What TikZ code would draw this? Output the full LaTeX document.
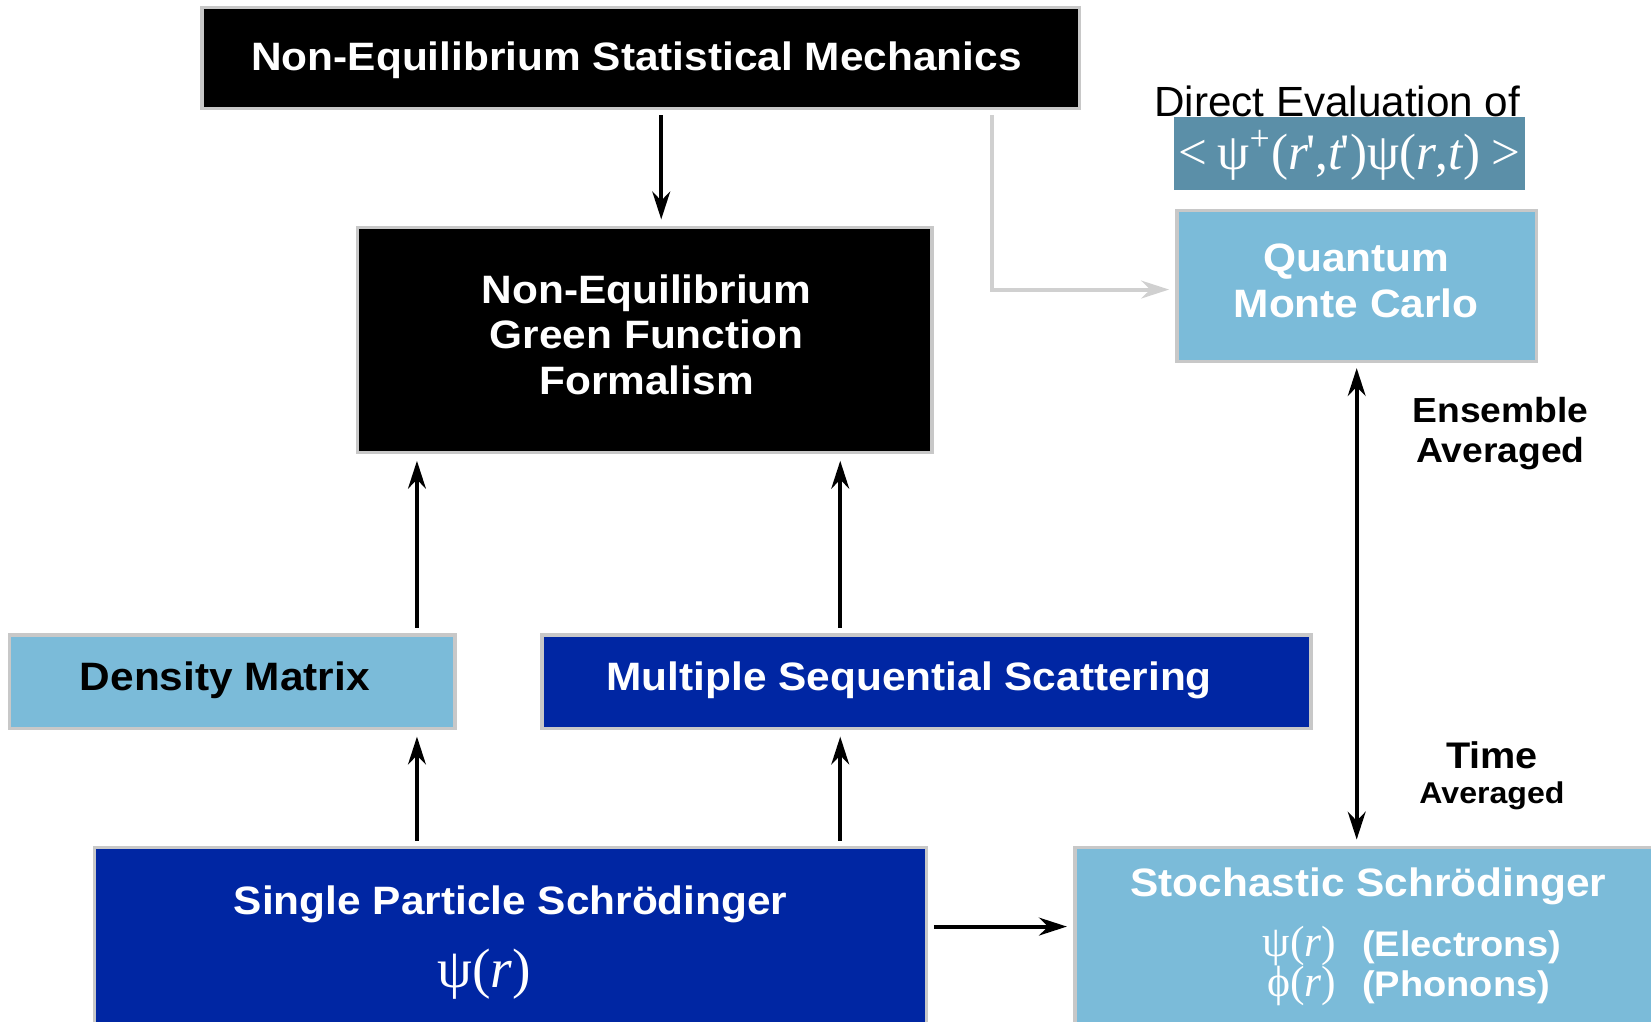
\documentclass[tikz,border=0pt]{standalone}
\usepackage{fontspec}
\setmainfont{Liberation Sans}
\newfontfamily\hvb[FakeStretch=1.07]{Liberation Sans Bold}
\newfontfamily\tms{Liberation Serif}
\usetikzlibrary{arrows.meta}
\definecolor{navy}{RGB}{0,38,163}
\definecolor{sky}{RGB}{123,187,217}
\definecolor{steel}{RGB}{91,143,168}
\definecolor{rim}{RGB}{200,200,200}
\definecolor{pale}{RGB}{208,208,208}
\tikzstyle{box}=[rectangle,draw=rim,line width=0.9pt,inner sep=0pt]
\tikzstyle{blackbox}=[box,fill=black]
\tikzstyle{navybox}=[box,fill=navy]
\tikzstyle{skybox}=[box,fill=sky]
\tikzstyle{txt}=[inner sep=0pt,align=center,font=\hvb\fontsize{10.7}{12.3}\selectfont]
\tikzstyle{wtxt}=[txt,text=white]
\tikzstyle{arr}=[line width=1.1pt,shorten <=0.05cm,shorten >=0.06cm,-{Stealth[length=7.5pt,width=4.8pt]}]
\tikzstyle{grayarr}=[arr,draw=pale,-{Stealth[length=7.5pt,width=4.8pt,fill=pale]}]

\begin{document}
\begin{tikzpicture}[x=0.01cm,y=-0.01cm]
\useasboundingbox (0,0) rectangle (1568,970);
\clip (0,0) rectangle (1568,970);
\node[blackbox,minimum width=8.33cm,minimum height=0.96cm] (stat) at (608.5,55) {};
\node[blackbox,minimum width=5.45cm,minimum height=2.14cm] (negf) at (612.5,323) {};
\node[skybox,minimum width=3.41cm,minimum height=1.43cm] (qmc) at (1288.5,271.5) {};
\node[skybox,minimum width=4.23cm,minimum height=0.89cm] (dm) at (220.5,647.5) {};
\node[navybox,minimum width=7.30cm,minimum height=0.89cm] (mss) at (880,647.5) {};
\node[navybox,minimum width=7.90cm,minimum height=1.95cm] (sps) at (485,902.5) {};
\node[skybox,minimum width=5.79cm,minimum height=1.95cm] (stoch) at (1310.5,902.5) {};

\node[wtxt,anchor=base] (stattxt) at (604.5,67) {Non-Equilibrium Statistical Mechanics};
\node[wtxt] (negftxt) at (614,318) {Non-Equilibrium\\Green Function\\Formalism};
\node[wtxt,font=\hvb\fontsize{10.7}{12.5}\selectfont] (qmctxt) at (1288,267) {Quantum\\Monte Carlo};
\node[txt,anchor=base] (dmtxt) at (213.5,656) {Density Matrix};
\node[wtxt,anchor=base] (msstxt) at (863.5,656) {Multiple Sequential Scattering};
\node[wtxt,anchor=base] (spstxt) at (485,869) {Single Particle Schrödinger};
\node[text=white,inner sep=0pt,anchor=base,font=\tms\fontsize{15}{18}\selectfont] (spspsi) at (460,938) {ψ(\textit{r})};
\node[wtxt,anchor=base] (stochtxt) at (1299.5,851) {Stochastic Schrödinger};
\node[text=white,inner sep=0pt,anchor=base east,font=\tms\fontsize{11.8}{13}\selectfont] (psie) at (1270,908) {ψ(\textit{r})};
\node[wtxt,anchor=base west,font=\hvb\fontsize{9.6}{11}\selectfont] (elec) at (1293,908) {(Electrons)};
\node[text=white,inner sep=0pt,anchor=base east,font=\tms\fontsize{11.8}{13}\selectfont] (phip) at (1270,946) {ϕ(\textit{r})};
\node[wtxt,anchor=base west,font=\hvb\fontsize{9.6}{11}\selectfont] (phon) at (1293,946) {(Phonons)};

\node[inner sep=0pt,anchor=base,font=\fontsize{11.4}{13}\selectfont] (direct) at (1270,111) {Direct Evaluation of};
\node[fill=steel,minimum width=3.33cm,minimum height=0.69cm,inner sep=0pt] (ev) at (1281.5,145.5) {};
\node[text=white,inner sep=0pt,anchor=base,font=\tms\fontsize{13.8}{16}\selectfont] (evtxt) at (1281.5,161) {<\hspace{0.2em}ψ\textsuperscript{+}(\textit{r}\kern-0.05em',\textit{t}\kern-0.05em')ψ(\textit{r},\textit{t})\hspace{0.2em}>};

\node[txt,font=\hvb\fontsize{9.4}{10.7}\selectfont] (ens) at (1425,412) {Ensemble\\Averaged};
\node[txt,anchor=base,font=\hvb\fontsize{10}{12}\selectfont] (time) at (1417,730) {Time};
\node[txt,anchor=base,font=\hvb\fontsize{8.1}{10}\selectfont] (tavg) at (1417,763) {Averaged};

\coordinate (ca) at (396,0);
\coordinate (cb) at (798,0);
\coordinate (cc) at (628,0);
\coordinate (cd) at (942,275);
\coordinate (ce) at (0,880);
\draw[arr] (stat.south -| cc) -- (negf.north -| cc);
\draw[grayarr] (stat.south -| cd) |- (qmc.west |- cd);
\draw[arr] (dm.north -| ca) -- (negf.south -| ca);
\draw[arr] (mss.north -| cb) -- (negf.south -| cb);
\draw[arr] (sps.north -| ca) -- (dm.south -| ca);
\draw[arr] (sps.north -| cb) -- (mss.south -| cb);
\draw[arr] (sps.east |- ce) -- (stoch.west |- ce);
\draw[arr,{Stealth[length=7.5pt,width=4.8pt]}-{Stealth[length=7.5pt,width=4.8pt]}] (qmc.south) -- (stoch.north -| qmc.south);
\end{tikzpicture}
\end{document}
